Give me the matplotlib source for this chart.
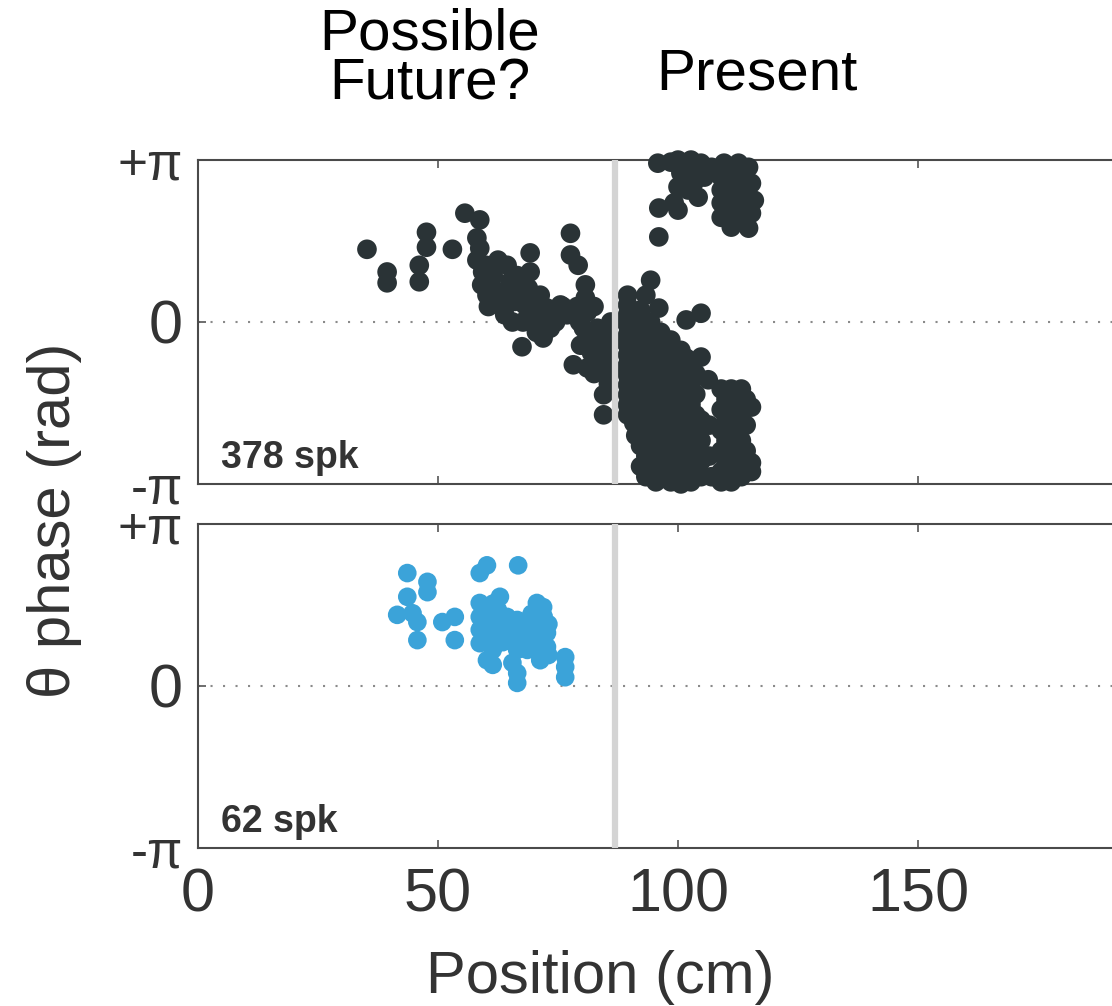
import numpy as np
import matplotlib
matplotlib.use('Agg')
import matplotlib.pyplot as plt

plt.rcParams['font.family'] = ['Liberation Sans', 'DejaVu Sans']

# theta phase precession, all spikes (top) and the sub-set (bottom)
PRESENT_POS = 86.8
ALL_SPK_LABEL = '378 spk'
SUB_SPK_LABEL = '62 spk'

all_pos = [
    35.2, 39.4, 39.4, 47.6, 47.6, 46.1, 46.1, 53.0, 55.6, 58.7,
    58.1, 58.7, 58.1, 59.3, 59.1, 60.2, 64.4, 65.0, 63.5, 63.9,
    69.2, 69.2, 68.8, 68.1, 67.7, 67.5, 71.3, 72.7, 73.4, 71.9,
    75.5, 76.9, 77.6, 77.6, 79.2, 80.7, 80.7, 81.1, 80.3, 79.7,
    78.2, 81.1, 83.2, 84.5, 84.9, 84.5, 84.5,
    61.5, 62.0, 66.0, 66.5, 70.0, 74.0, 62.5, 60.5, 65.5, 70.5,
    82.5, 83.0, 82.0, 83.5, 85.0, 85.5, 82.5,
    60.0, 61.0, 63.0, 65.0, 67.0, 69.5, 70.5, 72.0, 74.5, 76.0,
    79.0, 79.5, 81.5, 86.0, 86.0, 86.0, 85.5,
    # upper right group
    95.8, 100.0, 102.7, 104.8, 100.6, 102.7, 105.5, 100.0, 102.1, 104.2,
    99.2, 100.0, 96.0, 96.0, 107.0,
    109.6, 112.6, 114.7, 109.0, 112.6, 115.3, 109.0, 112.6, 115.9, 109.0,
    112.6, 115.3, 109.0, 111.7, 114.7, 111.1,
    110.8, 113.8, 110.8, 113.8, 110.8, 113.8, 110.2, 113.8, 101.3, 103.5,
    98.5, 101.0, 103.3,
    # lower right group
    94.3, 93.3, 96.0, 104.8, 101.7,
    89.5, 89.5, 89.5, 89.5, 89.5, 89.5, 89.5, 89.5, 89.5, 89.5, 89.5, 89.5, 89.5,
    90.8,
    92.2, 92.2, 92.2, 92.2, 92.2, 92.2, 92.2, 92.2, 92.2,
    94.3, 94.3, 94.3, 94.3, 94.3, 94.3, 94.3, 94.3,
    96.4, 96.4, 96.4, 96.4, 96.4, 96.4, 96.4, 96.4,
    98.5, 98.5, 98.5, 98.5, 98.5, 98.5, 98.5, 98.5,
    100.6, 100.6, 100.6, 100.6, 100.6, 100.6, 100.6, 100.6,
    102.7, 102.7, 102.7, 102.7, 102.7, 102.7, 102.7,
    104.8, 104.8, 104.8, 104.8, 104.8,
    106.3, 106.5, 106.5, 107.0,
    109.0, 109.0, 109.0, 109.0, 109.0, 109.0,
    111.1, 111.1, 111.1, 111.1, 111.1, 111.1,
    113.2, 113.2, 113.2, 113.2, 113.2,
    115.3, 115.3, 115.3,
    91.2, 91.2, 91.2, 91.2, 91.2, 91.2,
    93.3, 93.3, 93.3, 93.3, 93.3, 93.3, 93.3, 93.3,
    95.4, 95.4, 95.4, 95.4, 95.4, 95.4, 95.4, 95.4,
    97.5, 97.5, 97.5, 97.5, 97.5, 97.5, 97.5,
    99.6, 99.6, 99.6, 99.6, 99.6, 99.6, 99.6,
    101.7, 101.7, 101.7, 101.7, 101.7, 101.7, 101.7,
    103.7, 103.7, 103.7, 103.7, 103.7, 103.7,
    110.0, 110.0, 110.0, 110.0, 110.0,
    112.1, 112.1, 112.1, 112.1, 112.1,
    114.2, 114.2, 114.2, 114.2,
]
all_phase = [
    1.41, 0.97, 0.76, 1.74, 1.45, 1.10, 0.78, 1.41, 2.11, 1.98,
    1.63, 1.43, 1.20, 0.97, 0.72, 0.52, 1.10, 0.78, 0.52, 0.14,
    1.34, 0.97, 0.66, 0.33, 0.00, -0.48, 0.52, 0.27, -0.12, -0.31,
    0.33, 0.14, 1.72, 1.30, 1.10, 0.72, 0.47, 0.19, -0.12, -0.45,
    -0.83, -0.89, -0.12, -0.45, -0.89, -1.41, -1.80,
    0.90, 0.60, 0.40, 0.90, 0.10, 0.20, 1.20, 0.30, 0.00, -0.20,
    0.30, -0.30, -0.60, -0.70, -0.20, -0.60, -1.00,
    1.10, 0.75, 0.35, 0.55, 0.70, 0.50, 0.30, 0.00, 0.00, 0.30,
    0.30, 0.00, -0.30, -0.90, -0.40, 0.00, -1.20,
    3.08, 3.14, 3.14, 3.08, 2.89, 2.85, 2.81, 2.62, 2.56, 2.42,
    2.31, 2.17, 2.21, 1.65, 3.00,
    3.08, 3.08, 3.00, 2.81, 2.81, 2.69, 2.56, 2.56, 2.36, 2.31,
    2.23, 2.11, 2.03, 1.98, 1.82, 1.84,
    2.95, 2.95, 2.68, 2.68, 2.42, 2.42, 2.15, 2.15, 3.00, 3.00,
    3.10, 2.75, 2.70,
    0.81, 0.52, 0.27, 0.17, 0.04,
    0.52, 0.33, 0.14, -0.06, -0.25, -0.45, -0.64, -0.83, -1.03, -1.22, -1.41, -1.61, -1.80,
    -1.96,
    0.23, 0.00, -0.40, -0.80, -1.20, -1.60, -2.00, -2.40, -2.80,
    0.00, -0.40, -0.80, -1.20, -1.60, -2.00, -2.40, -2.80,
    -0.20, -0.60, -1.00, -1.40, -1.80, -2.20, -2.60, -3.00,
    -0.35, -0.70, -1.10, -1.50, -1.90, -2.30, -2.70, -3.10,
    -0.55, -0.90, -1.30, -1.70, -2.10, -2.50, -2.90, -3.14,
    -0.80, -1.20, -1.60, -2.00, -2.40, -2.80, -3.10,
    -0.68, -1.90, -2.30, -2.70, -3.00,
    -1.12, -2.00, -2.60, -3.00,
    -1.30, -1.70, -2.10, -2.50, -2.90, -3.10,
    -1.30, -1.60, -2.00, -2.40, -2.80, -3.10,
    -1.30, -1.80, -2.30, -2.70, -3.00,
    -1.65, -2.73, -2.90,
    -0.20, -0.60, -1.00, -1.40, -1.80, -2.20,
    -0.20, -0.60, -1.00, -1.40, -1.80, -2.20, -2.60, -3.00,
    -0.40, -0.80, -1.20, -1.60, -2.00, -2.40, -2.80, -3.10,
    -0.50, -0.90, -1.30, -1.70, -2.10, -2.50, -2.90,
    -0.70, -1.10, -1.50, -1.90, -2.30, -2.70, -3.00,
    -0.70, -1.00, -1.40, -1.80, -2.20, -2.60, -3.00,
    -1.00, -1.40, -1.80, -2.20, -2.60, -2.90,
    -1.50, -1.90, -2.30, -2.70, -3.00,
    -1.50, -1.90, -2.20, -2.60, -2.90,
    -1.50, -2.00, -2.50, -2.85,
]

sub_pos = [
    43.6, 47.8, 47.8, 43.6, 41.5, 44.7, 45.7, 45.7, 50.9, 53.5,
    53.5, 58.7, 60.2, 66.7, 58.7, 58.7, 58.7, 58.7, 62.9, 62.5,
    62.3, 62.3, 61.4, 61.4, 60.2, 60.8, 60.8, 64.4, 64.4, 66.5,
    66.5, 66.5, 66.5, 66.5, 70.6, 71.9, 70.6, 71.9, 69.8, 72.7,
    70.6, 72.7, 71.3, 68.6, 68.6, 76.5, 76.5, 76.5,
    59.5, 61.5, 63.5, 65.5, 69.5, 72.0, 73.0, 69.5, 71.5, 73.0,
    72.0, 63.5, 59.5, 65.5,
]
sub_phase = [
    2.19, 2.02, 1.82, 1.73, 1.38, 1.41, 1.24, 0.89, 1.24, 1.34,
    0.89, 2.19, 2.34, 2.34, 1.61, 1.34, 1.09, 0.83, 1.73, 1.47,
    1.22, 0.95, 0.70, 0.41, 0.50, 1.14, 0.89, 1.34, 1.03, 1.28,
    0.95, 0.70, 0.25, 0.06, 1.61, 1.53, 1.34, 1.22, 1.03, 1.03,
    0.76, 0.76, 0.50, 0.70, 1.09, 0.56, 0.37, 0.17,
    1.45, 1.60, 1.20, 1.10, 1.40, 1.35, 1.20, 0.85, 0.90, 0.60,
    0.62, 0.85, 0.95, 0.45,
]

x_ticks = [0, 50, 100, 150]
y_ticks = [-np.pi, 0, np.pi]
y_tick_labels = ['-\u03c0', '0', '+\u03c0']

DARK = '#2a3336'
BLUE = '#3ba3d9'
TXT = '#333333'

fig = plt.figure(figsize=(11.12, 10.06), dpi=100)
W, H = 1112.0, 1006.0
ax_left = 198 / W
ax_width = 960 / W
ax_top = fig.add_axes([ax_left, (H - 484) / H, ax_width, 324 / H])
ax_bot = fig.add_axes([ax_left, (H - 848) / H, ax_width, 324 / H])

panels = [
    (ax_top, all_pos, all_phase, DARK, ALL_SPK_LABEL, 200),
    (ax_bot, sub_pos, sub_phase, BLUE, SUB_SPK_LABEL, 180),
]
for ax, xs, ys, col, lab, ms in panels:
    ax.scatter(xs, ys, s=ms, color=col, edgecolors='none', clip_on=False, zorder=3)
    ax.axvline(PRESENT_POS, color='#d4d4d4', lw=4.5, zorder=4)
    ax.axhline(0, color='#8a8a8a', lw=1.5, ls=(0, (1, 5)), zorder=1)
    ax.set_xlim(0, 200)
    ax.set_ylim(-np.pi, np.pi)
    ax.set_xticks(x_ticks)
    ax.set_yticks(y_ticks)
    ax.set_yticklabels(y_tick_labels)
    ax.tick_params(direction='in', length=6, width=1.2, color='#555555',
                   top=True, right=True, labelsize=44, labelcolor=TXT)
    ax.tick_params(axis='y', pad=11)
    ax.tick_params(axis='x', pad=14)
    # the pi labels are set a bit smaller than the zero
    for t in ax.get_yticklabels():
        if t.get_text() != '0':
            t.set_fontsize(37)
    for sp in ax.spines.values():
        sp.set_color('#4a4a4a')
        sp.set_linewidth(1.5)
    ax.text(0.0235, 0.05, lab, transform=ax.transAxes, fontsize=27,
            fontweight='bold', color=TXT, ha='left', va='baseline')

ax_top.set_xticklabels([])

fig.text(600 / W, 1 - 993 / H, 'Position (cm)', fontsize=43, color=TXT,
         ha='center', va='baseline')
fig.text(55 / W, 1 - 520 / H, '\u03b8 phase (rad)', fontsize=43, color=TXT,
         ha='center', va='center', rotation=90)

fig.text(430 / W, 1 - 50 / H, 'Possible', fontsize=42, color='black',
         ha='center', va='baseline')
fig.text(430 / W, 1 - 100 / H, 'Future?', fontsize=42, color='black',
         ha='center', va='baseline')
fig.text(757 / W, 1 - 89 / H, 'Present', fontsize=42, color='black',
         ha='center', va='baseline')

fig.savefig('out.png', dpi=100)
